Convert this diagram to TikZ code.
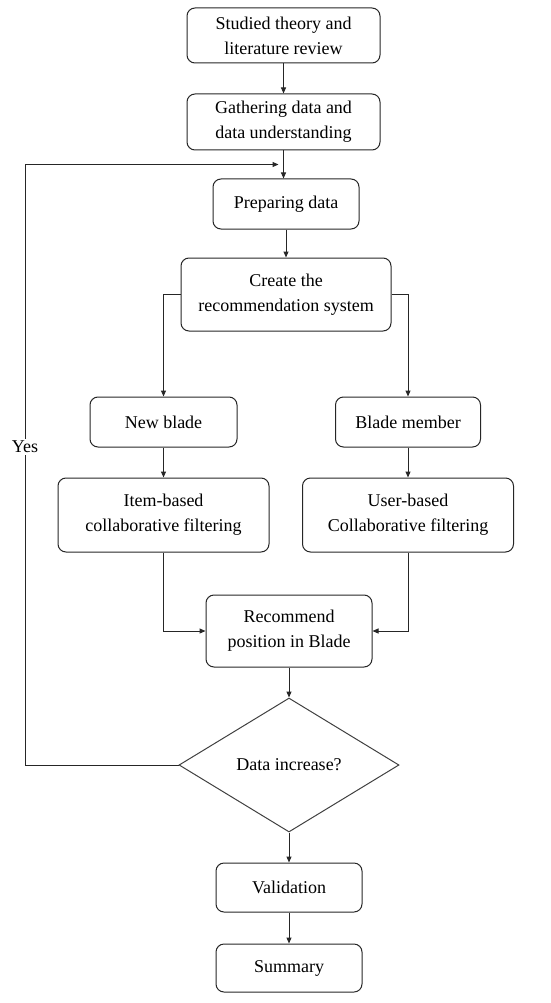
\documentclass[tikz,border=0pt]{standalone}
\usepackage{fontspec}
\setmainfont{Liberation Serif}
\usetikzlibrary{shapes.geometric,arrows.meta,positioning,calc}
\tikzset{
  box/.style = {rectangle, rounded corners=8pt, draw=black!85, line width=1pt,
                align=center, inner sep=2pt, font=\fontsize{18}{25}\selectfont},
  dec/.style = {diamond, draw=black!75, line width=1pt, align=center, inner sep=0pt,
                minimum width=220pt, minimum height=134pt, font=\fontsize{18}{25}\selectfont},
  fl/.style  = {-{Triangle[length=6pt,width=5pt]}, draw=black!85, line width=1pt},
  ln/.style  = {draw=black!85, line width=1pt},
  lab/.style = {font=\fontsize{18}{25}\selectfont, inner sep=2pt},
}

\begin{document}
\begin{tikzpicture}[x=1pt, y=-1pt]
  \useasboundingbox (0,0) rectangle (550,1003);

  % main column
  \node[box, minimum width=193pt, minimum height=55pt] (lit) at (283.5,35.5) {Studied theory and\\literature review};
  \node[box, minimum width=193pt, minimum height=56pt] (gat) at (283.5,122) {Gathering data and\\data understanding};
  \node[box, minimum width=146pt, minimum height=50pt] (prep) at (286,204) {Preparing data};
  \node[box, minimum width=210pt, minimum height=73pt] (sys) at (286,294.5) {Create the\\recommendation system};

  % two branches
  \node[box, minimum width=147pt, minimum height=50pt] (newb) at (163.5,422) {New blade};
  \node[box, minimum width=145pt, minimum height=50pt] (memb) at (408,422) {Blade member};
  \node[box, minimum width=211pt, minimum height=74pt] (item) at (163.5,515) {Item-based\\collaborative filtering};
  \node[box, minimum width=211pt, minimum height=74pt] (user) at (408,515) {User-based\\Collaborative filtering};

  \node[box, minimum width=166pt, minimum height=72pt] (rec) at (289,631) {Recommend\\position in Blade};
  \node[dec] (inc) at (289,765) {Data increase?};
  \node[box, minimum width=146pt, minimum height=49pt] (val) at (289,887.5) {Validation};
  \node[box, minimum width=146pt, minimum height=48pt] (sum) at (289,968) {Summary};

  \node[lab] (yes) at (25,447) {Yes};
  \coordinate (back) at ($(gat.south)!0.5!(gat.south |- prep.north)$);

  \draw[fl] (lit) -- (gat);
  \draw[fl] (gat.south) -- (gat.south |- prep.north);
  \draw[fl] (prep.south) -- (prep.south |- sys.north);
  \draw[fl] (sys.west) -| (newb.north);
  \draw[fl] (sys.east) -| (memb.north);
  \draw[fl] (newb) -- (item);
  \draw[fl] (memb) -- (user);
  \draw[fl] (item.south) |- (rec.west);
  \draw[fl] (user.south) |- (rec.east);
  \draw[fl] (rec.south) -- (inc.north);
  \draw[fl] (inc.south) -- (val.north);
  \draw[fl] (val) -- (sum);

  % loop back on yes
  \draw[ln] (inc.west) -| (yes.south);
  \draw[fl] (yes.north) |- ([xshift=-5pt]back);
\end{tikzpicture}
\end{document}
